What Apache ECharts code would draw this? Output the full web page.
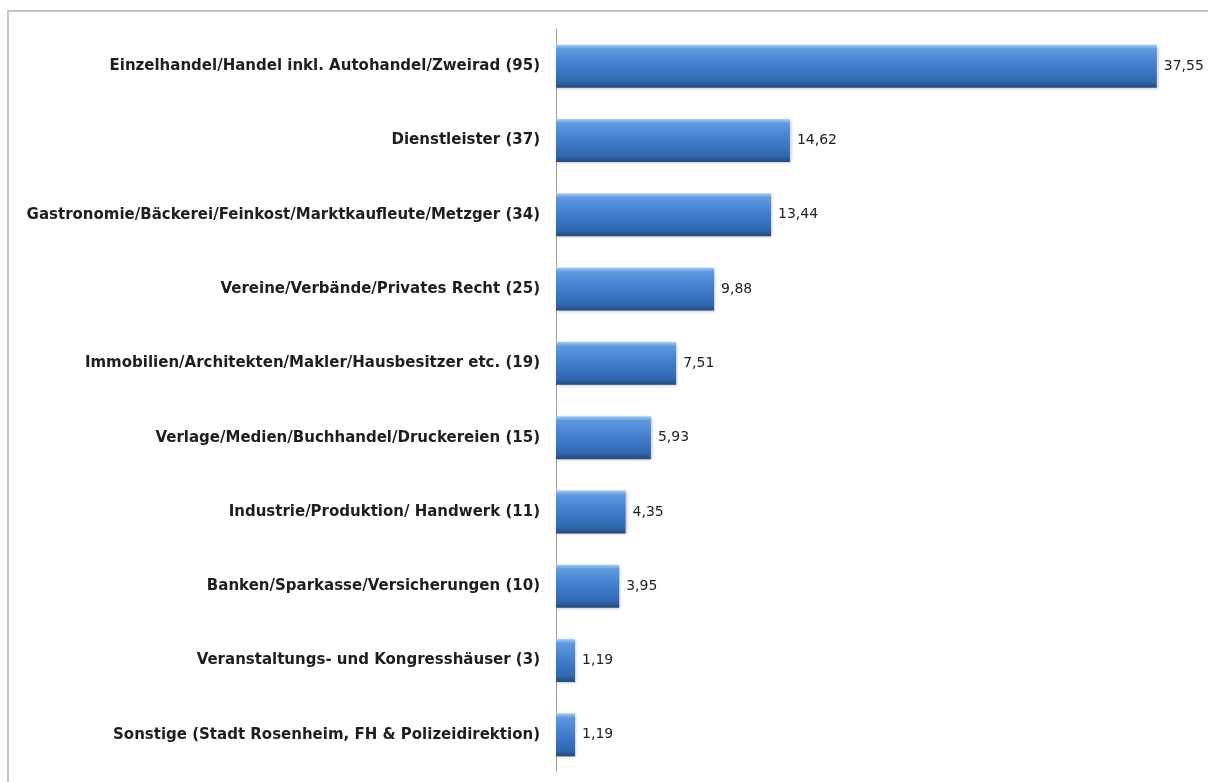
<!DOCTYPE html>
<html>
<head>
<meta charset="utf-8">
<script src="https://cdn.jsdelivr.net/npm/echarts@6/dist/echarts.min.js"></script>
<style>
  html, body { margin: 0; padding: 0; background: #fff; }
  #chart { width: 1208px; height: 782px; }
</style>
</head>
<body>
<div id="chart"></div>
<script>
// Branchen (Anzahl) und Anteil in %
const categories = [
  'Einzelhandel/Handel inkl. Autohandel/Zweirad (95)',
  'Dienstleister (37)',
  'Gastronomie/Bäckerei/Feinkost/Marktkaufleute/Metzger (34)',
  'Vereine/Verbände/Privates Recht (25)',
  'Immobilien/Architekten/Makler/Hausbesitzer etc. (19)',
  'Verlage/Medien/Buchhandel/Druckereien (15)',
  'Industrie/Produktion/ Handwerk (11)',
  'Banken/Sparkasse/Versicherungen (10)',
  'Veranstaltungs- und Kongresshäuser (3)',
  'Sonstige (Stadt Rosenheim, FH & Polizeidirektion)'
];
const values = [37.55, 14.62, 13.44, 9.88, 7.51, 5.93, 4.35, 3.95, 1.19, 1.19];

let myChart = echarts.init(document.getElementById('chart'));

const barColor = {
  type: 'linear', x: 0, y: 0, x2: 0, y2: 1,
  colorStops: [
    { offset: 0, color: '#a8cef4' },
    { offset: 0.1, color: '#5f9ae0' },
    { offset: 0.5, color: '#3f7ccb' },
    { offset: 0.86, color: '#3068b0' },
    { offset: 1, color: '#24497a' }
  ]
};

myChart.setOption({
  animation: false,
  backgroundColor: '#fff',
  graphic: [{
    type: 'rect',
    shape: { x: 8, y: 11, width: 1220, height: 800 },
    style: { fill: 'none', stroke: '#c6c6c6', lineWidth: 2 },
    silent: true
  }],
  grid: { left: 556, right: 12, top: 29, bottom: 10, containLabel: false },
  xAxis: {
    type: 'value',
    min: 0,
    max: 40,
    show: false
  },
  yAxis: {
    type: 'category',
    data: categories,
    inverse: true,
    axisLine: { show: true, lineStyle: { color: '#a0a0a0', width: 1 } },
    axisTick: { show: false },
    axisLabel: {
      margin: 16,
      color: '#1e1e1e',
      fontFamily: 'DejaVu Sans',
      fontWeight: 'bold',
      fontSize: 15
    }
  },
  series: [{
    type: 'bar',
    data: values,
    barWidth: 43,
    itemStyle: {
      color: barColor,
      shadowColor: 'rgba(0,0,0,0.25)',
      shadowBlur: 3,
      shadowOffsetX: 1,
      shadowOffsetY: 1
    },
    label: {
      show: true,
      position: 'right',
      distance: 7,
      color: '#222',
      fontFamily: 'DejaVu Sans',
      fontSize: 14,
      formatter: p => p.value.toFixed(2).replace('.', ',')
    }
  }]
});
</script>
</body>
</html>
